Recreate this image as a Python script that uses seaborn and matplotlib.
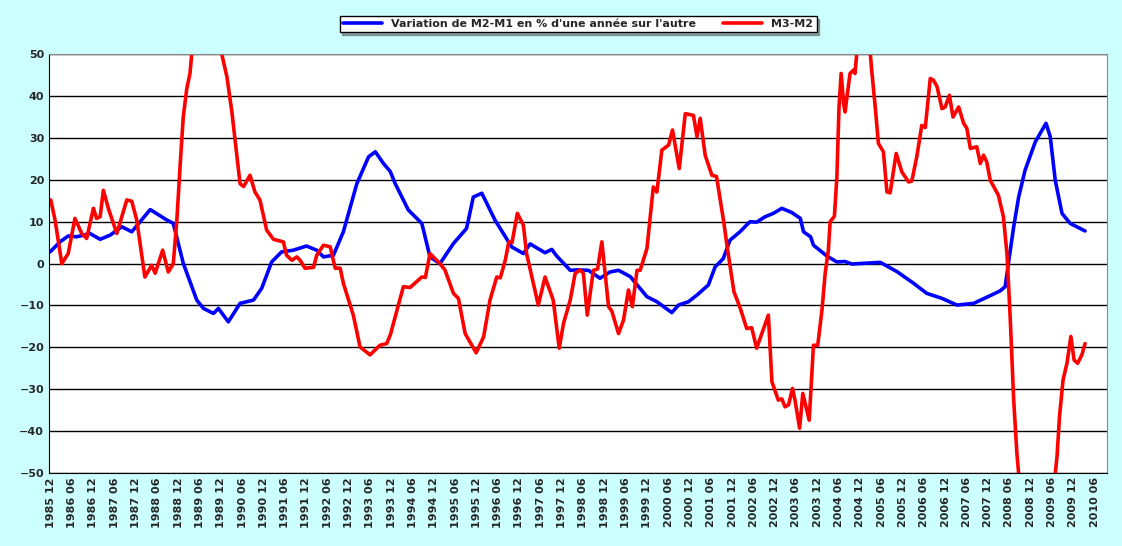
import matplotlib
matplotlib.use("Agg")
import matplotlib.pyplot as plt
import numpy as np
import pandas as pd
import seaborn as sns

# month index 0 = 1985-12 (one category per month)
blue_m = [-0.2, 2.6, 4.9, 7.3, 11.0, 13.9, 16.7, 20.0, 22.8, 28.0, 32.7, 34.5, 37.3, 41.1, 43.0,
          45.8, 47.2, 50.0, 53.3, 57.1, 59.4, 62.2, 65.0, 68.3, 72.0, 74.9, 76.8, 79.6, 82.4,
          86.2, 89.5, 91.4, 93.7, 95.6, 97.0, 100.7, 104.5, 106.8, 109.6, 113.4, 117.1, 119.0,
          121.4, 125.1, 129.8, 133.1, 135.0, 139.2, 141.1, 142.5, 146.3, 148.2, 151.4, 154.7,
          157.5, 159.9, 163.2, 167.9, 170.7, 174.9, 176.8, 179.6, 182.0, 185.2, 187.1, 189.4,
          191.3, 194.1, 196.9, 198.8, 201.2, 203.5, 205.9, 208.7, 211.1, 212.0, 214.0, 214.8,
          218.6, 221.4, 223.7, 225.6, 233.6, 238.3, 243.0, 246.7, 251.0, 255.2, 259.9, 264.2,
          267.4, 268.8, 269.7, 271.2, 272.6, 274.4, 277.3, 280.3, 281.5, 282.9, 284.8, 287.1, 291.3]
blue_v = [2.8, 5.2, 6.6, 6.4, 7.2, 5.8, 6.8, 8.8, 7.6, 12.9, 10.4, 9.6, 0.1, -8.7, -10.7,
          -11.9, -10.7, -13.9, -9.5, -8.7, -5.9, 0.4, 2.8, 3.2, 4.2, 3.2, 1.6, 2.0, 7.6,
          19.1, 25.5, 26.7, 23.9, 22.0, 19.1, 12.8, 9.6, 1.6, 0.0, 4.8, 8.4, 15.9,
          16.8, 10.4, 4.0, 2.4, 4.7, 2.6, 3.4, 1.8, -1.6, -1.5, -1.6, -3.5,
          -2.0, -1.6, -3.1, -7.9, -9.1, -11.7, -9.9, -9.1, -7.5, -5.1, -0.8, 1.2,
          5.6, 7.6, 10.0, 9.9, 11.2, 12.0, 13.2, 12.2, 10.8, 7.6, 6.4, 4.4,
          1.8, 0.4, 0.5, -0.1, 0.3, -1.9, -4.7, -7.1, -8.3, -9.9, -9.5, -7.8,
          -6.5, -5.5, 0.0, 8.8, 15.9, 22.3, 29.1, 33.5, 30.3, 19.9, 12.0, 9.6, 7.8]

red_m = [0.0, 1.2, 3.1, 4.9, 6.8, 8.7, 10.1, 12.0, 12.9, 13.9, 14.8, 16.2, 18.6, 21.4, 22.8,
         24.2, 26.5, 28.4, 29.4, 31.5, 33.1, 34.5, 35.5, 36.4, 37.3, 38.3, 39.2, 39.7, 44.0,
         48.1, 49.6, 51.0, 51.9, 53.3, 54.3, 56.1, 57.5, 58.9, 60.8, 62.7, 65.5, 66.4, 67.9,
         69.3, 70.2, 71.6, 74.0, 74.9, 76.8, 78.7, 80.1, 81.5, 82.4, 85.2, 87.1, 89.9, 92.7,
         94.6, 95.6, 99.3, 101.2, 104.5, 105.5, 106.8, 109.6, 111.0, 113.4, 114.8, 116.7,
         119.8, 121.9, 123.7, 125.6, 126.6, 128.0, 129.0, 129.9, 131.4, 133.1, 134.0, 135.9,
         137.3, 139.2, 141.5, 143.2, 144.4, 146.3, 147.7, 149.1, 150.0, 151.1, 152.8, 154.0,
         155.2, 157.1, 158.0, 159.9, 161.3, 162.7, 163.8, 165.1, 166.0, 167.9, 169.7, 170.7,
         172.1, 174.0, 175.1, 177.0, 178.7, 181.0, 182.0, 182.9, 184.3, 186.2, 187.5, 189.6,
         190.5, 192.4, 194.2, 196.0, 197.4, 198.8, 202.1, 203.1, 204.9, 205.9, 206.8, 207.8,
         208.9, 209.6, 210.9, 211.8, 213.6, 214.8, 216.0, 217.2, 218.1, 219.0, 219.5, 220.7,
         221.4, 222.0, 222.6, 223.3, 223.7, 225.1, 226.1, 226.5, 227.0, 229.0, 230.8, 231.2,
         232.2, 233.1, 234.5, 235.5, 236.4, 238.1, 239.7, 241.6, 242.5, 243.9, 245.3, 246.3,
         247.7, 248.6, 249.6, 251.0, 251.9, 253.1, 254.1, 255.7, 257.1, 258.0, 259.0, 260.8,
         261.8, 262.7, 263.6, 264.6, 266.9, 268.3, 269.3, 270.2, 271.2, 272.1, 272.6, 277.0,
         282.9, 283.4, 284.1, 285.1, 286.2, 287.3, 288.2, 289.2, 290.4, 291.3]
red_v = [15.2, 10.4, 0.0, 2.4, 10.8, 7.2, 6.0, 13.2, 10.8, 11.2, 17.5, 13.2, 7.2, 15.2, 14.9,
         10.4, -3.2, -0.4, -2.3, 3.2, -2.0, 0.0, 10.4, 23.1, 35.0, 41.8, 45.4, 50.2, 62.0,
         50.2, 44.6, 36.2, 29.5, 19.1, 18.4, 21.1, 17.1, 15.2, 8.0, 5.8, 5.2, 2.0, 0.8,
         1.6, 0.8, -1.1, -0.9, 2.0, 4.4, 4.0, -1.1, -1.1, -4.7, -12.3, -19.9, -21.8, -19.5,
         -19.1, -17.1, -5.5, -5.7, -3.2, -3.3, 2.4, 0.0, -1.5, -7.1, -8.3, -16.7,
         -21.3, -17.5, -8.7, -3.2, -3.4, 0.8, 5.2, 5.0, 12.0, 9.2, 2.4, -4.7,
         -9.9, -3.2, -8.7, -20.2, -14.3, -8.7, -2.3, -1.5, -2.3, -12.3, -1.6, -1.3,
         5.2, -10.3, -11.3, -16.7, -13.5, -6.3, -10.3, -1.6, -1.6, 3.6, 18.3, 17.1,
         27.1, 28.3, 31.9, 22.7, 35.8, 35.4, 30.3, 34.7, 25.9, 21.1, 20.8, 9.6,
         4.0, -6.7, -10.7, -15.5, -15.3, -20.2, -12.3, -28.2, -32.6, -32.3, -34.2, -33.7,
         -29.8, -32.6, -39.3, -31.0, -37.4, -19.5, -19.5, -11.1, -2.3, 3.2, 10.0, 11.3,
         20.7, 37.4, 45.4, 38.2, 36.2, 45.4, 46.2, 45.4, 50.2, 54.0, 50.2, 46.2,
         37.4, 28.7, 26.7, 17.1, 16.9, 26.3, 21.9, 19.5, 19.7, 25.5, 33.0, 32.5,
         44.2, 43.8, 42.3, 37.0, 37.4, 40.2, 35.0, 37.4, 33.5, 32.3, 27.5, 27.9,
         23.9, 25.9, 24.3, 19.9, 16.3, 11.2, 2.4, -12.7, -32.6, -45.3, -50.2, -62.0,
         -50.2, -46.1, -36.5, -27.8, -23.8, -17.4, -23.0, -23.8, -21.8, -19.1]

blue_label = "Variation de M2-M1 en % d'une année sur l'autre"
red_label = "M3-M2"

n_months = 298
tick_idx = list(range(0, 295, 6))
tick_lbl = []
for i in tick_idx:
    y, m = 1985 + (11 + i) // 12, (11 + i) % 12 + 1
    tick_lbl.append(f"{y} {m:02d}")

df = pd.concat([
    pd.DataFrame({"mois": blue_m, "valeur": blue_v, "serie": blue_label}),
    pd.DataFrame({"mois": red_m, "valeur": red_v, "serie": red_label}),
])

sns.set_style("white")
fig = plt.figure(figsize=(11.22, 5.46), dpi=100, facecolor="#ccffff")
ax = fig.add_axes([0.0437, 0.1337, 0.943, 0.767])
ax.set_facecolor("white")
sns.lineplot(data=df, x="mois", y="valeur", hue="serie",
             palette={blue_label: "#0000ff", red_label: "#ff0000"},
             linewidth=2.6, ax=ax, legend=True)

ax.set_xlim(-0.5, n_months - 0.5)
ax.set_ylim(-50, 50)
ax.set_yticks(range(-50, 51, 10))
ax.yaxis.grid(True, color="black", linewidth=1)
ax.set_axisbelow(True)
ax.set_xticks(tick_idx)
ax.set_xticklabels(tick_lbl, rotation=90, fontsize=8, fontweight="bold")
ax.set_xticks(np.arange(-0.5, n_months, 1), minor=True)
ax.tick_params(axis="x", which="minor", length=4, direction="in", color="black")
ax.tick_params(axis="x", which="major", length=0, pad=3)
ax.tick_params(axis="y", length=4, direction="in")
for t in ax.get_yticklabels():
    t.set_fontweight("bold")
    t.set_fontsize(8)
ax.set_xlabel("")
ax.set_ylabel("")
for s in ["left", "bottom"]:
    ax.spines[s].set_color("black")
for s in ["top", "right"]:
    ax.spines[s].set_color("#888888")

leg = ax.legend(loc="upper center", bbox_to_anchor=(0.5, 1.105), ncol=2,
                frameon=True, fancybox=False, shadow=True, fontsize=8,
                prop={"weight": "bold", "size": 8}, handlelength=3.5,
                columnspacing=2.5, borderpad=0.3)
leg.get_frame().set_edgecolor("black")
leg.get_frame().set_linewidth(1)

fig.savefig("out.png", dpi=100, facecolor=fig.get_facecolor())
